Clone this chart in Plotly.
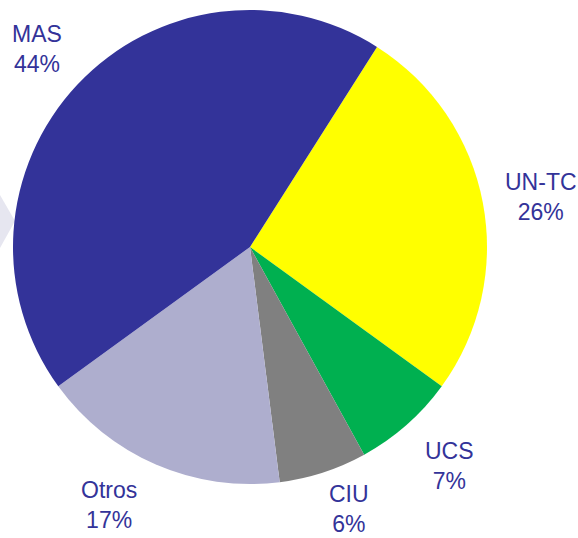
import plotly.graph_objects as go

labels = ["UN-TC", "UCS", "CIU", "Otros", "MAS"]
values = [26, 7, 6, 17, 44]
colors = ["#FFFF00", "#00B050", "#808080", "#AEAECE", "#333399"]
# label anchor positions in page pixels (x, y from top)
label_pos = [(541, 197), (449, 466), (349, 509), (109, 505), (37, 49)]

W, H = 578, 538
cx, cy, r = 250, 247, 237

fig = go.Figure()
fig.add_trace(go.Pie(
    labels=labels, values=values, sort=False, direction="clockwise",
    rotation=32.4, marker=dict(colors=colors, line=dict(width=0)),
    textinfo="none", hoverinfo="label+percent", showlegend=False,
    domain=dict(x=[(cx - r) / W, (cx + r) / W],
                y=[(H - cy - r) / H, (H - cy + r) / H]),
))

for lab, v, (px, py) in zip(labels, values, label_pos):
    fig.add_annotation(x=px / W, y=1 - py / H, xref="paper", yref="paper",
                       text=f"{lab}<br>{v}%", showarrow=False,
                       xanchor="center", yanchor="middle",
                       font=dict(family="Liberation Sans, Arial", size=23, color="#333399"))

fig.add_shape(type="path", xref="paper", yref="paper",
              path=f"M 0 {1-195/H} L {15/W} {1-221/H} L 0 {1-248/H} Z",
              fillcolor="#E6E6F0", line=dict(width=0), layer="below")

fig.update_layout(width=W, height=H, margin=dict(l=0, r=0, t=0, b=0),
                  paper_bgcolor="white", plot_bgcolor="white")
fig.write_html("out.html", config={"displayModeBar": False},
               post_script="document.body.style.margin='0';document.body.style.overflow='hidden';")
